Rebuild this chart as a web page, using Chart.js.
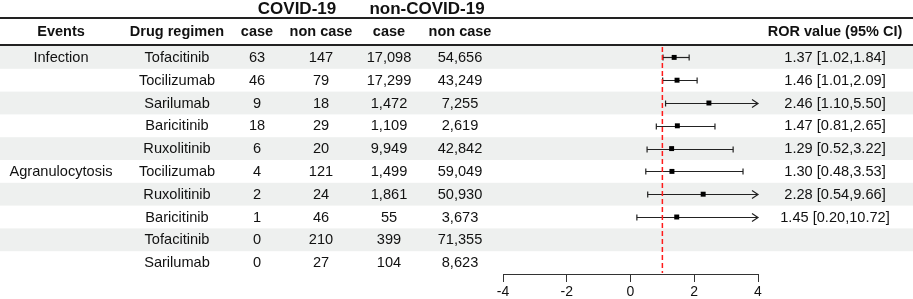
<!DOCTYPE html>
<html><head><meta charset="utf-8">
<script src="https://cdn.jsdelivr.net/npm/chart.js@4/dist/chart.umd.min.js"></script>
<style>html,body{margin:0;padding:0;background:#fff}canvas{display:block}</style>
</head><body>
<canvas id="c" width="913" height="299"></canvas>
<script>
// ---- data ----
const events = ['Infection', '', '', '', '', 'Agranulocytosis', '', '', '', ''];
const drugs = ['Tofacitinib', 'Tocilizumab', 'Sarilumab', 'Baricitinib', 'Ruxolitinib', 'Tocilizumab', 'Ruxolitinib', 'Baricitinib', 'Tofacitinib', 'Sarilumab'];
const covidCase = [63, 46, 9, 18, 6, 4, 2, 1, 0, 0];
const covidNonCase = [147, 79, 18, 29, 20, 121, 24, 46, 210, 27];
const nonCovidCase = [17098, 17299, 1472, 1109, 9949, 1499, 1861, 55, 399, 104];
const nonCovidNonCase = [54656, 43249, 7255, 2619, 42842, 59049, 50930, 3673, 71355, 8623];
const ror = [1.37, 1.46, 2.46, 1.47, 1.29, 1.30, 2.28, 1.45, null, null];
const ciLow = [1.02, 1.01, 1.10, 0.81, 0.52, 0.48, 0.54, 0.20, null, null];
const ciHigh = [1.84, 2.09, 5.50, 2.65, 3.22, 3.53, 9.66, 10.72, null, null];
const xTicks = [-4, -2, 0, 2, 4];
const refValue = 1;
const groupHeaders = ['COVID-19', 'non-COVID-19'];
const colHeaders = ['Events', 'Drug regimen', 'case', 'non case', 'case', 'non case', 'ROR value (95% CI)'];

// ---- drawing ----
const FONT = '"Liberation Sans", Arial, Helvetica, sans-serif';
const colX = [61, 177, 257, 321, 389, 460, 835];
const fmt = v => v.toLocaleString('en-US');

const tablePlugin = {
  id: 'table',
  beforeDraw(chart) {
    const ctx = chart.ctx, y = chart.scales.y, W = chart.width;
    ctx.save();
    const half = Math.abs(y.getPixelForValue(1) - y.getPixelForValue(0)) / 2;
    // shaded bands
    ctx.fillStyle = '#eef0ef';
    drugs.forEach((d, i) => {
      if (i % 2 === 0) {
        const c = y.getPixelForValue(i);
        ctx.fillRect(0, c - half, W, half * 2);
      }
    });
    // rules
    ctx.strokeStyle = '#222';
    ctx.lineWidth = 2;
    ctx.beginPath(); ctx.moveTo(0, 18); ctx.lineTo(W, 18); ctx.stroke();
    ctx.beginPath(); ctx.moveTo(0, 45); ctx.lineTo(W, 45); ctx.stroke();
    // headers
    ctx.fillStyle = '#111';
    ctx.textAlign = 'center';
    ctx.textBaseline = 'middle';
    ctx.font = 'bold 17px ' + FONT;
    ctx.fillText(groupHeaders[0], 297, 9);
    ctx.fillText(groupHeaders[1], 427, 9);
    ctx.font = 'bold 14.5px ' + FONT;
    colHeaders.forEach((h, k) => ctx.fillText(h, colX[k], 32));
    // body
    ctx.font = '14.6px ' + FONT;
    drugs.forEach((d, i) => {
      const cy = y.getPixelForValue(i) + 0.5;
      if (events[i]) ctx.fillText(events[i], colX[0], cy);
      ctx.fillText(d, colX[1], cy);
      ctx.fillText(fmt(covidCase[i]), colX[2], cy);
      ctx.fillText(fmt(covidNonCase[i]), colX[3], cy);
      ctx.fillText(fmt(nonCovidCase[i]), colX[4], cy);
      ctx.fillText(fmt(nonCovidNonCase[i]), colX[5], cy);
      if (ror[i] !== null) {
        ctx.fillText(ror[i].toFixed(2) + ' [' + ciLow[i].toFixed(2) + ',' + ciHigh[i].toFixed(2) + ']', colX[6], cy);
      }
    });
    ctx.restore();
  },
  beforeDatasetsDraw(chart) {
    const ctx = chart.ctx, x = chart.scales.x, y = chart.scales.y, a = chart.chartArea;
    ctx.save();
    ctx.strokeStyle = '#222';
    ctx.lineWidth = 1.2;
    const xMax = x.getPixelForValue(x.max), xMin = x.getPixelForValue(x.min);
    ror.forEach((r, i) => {
      if (r === null) return;
      const cy = Math.round(y.getPixelForValue(i)) + 0.5;
      let x1 = x.getPixelForValue(ciLow[i]), x2 = x.getPixelForValue(ciHigh[i]);
      const arrowR = x2 > xMax, arrowL = x1 < xMin;
      x1 = Math.max(x1, xMin); x2 = Math.min(x2, xMax);
      ctx.beginPath(); ctx.moveTo(x1, cy); ctx.lineTo(x2, cy); ctx.stroke();
      ctx.beginPath();
      if (arrowR) { ctx.moveTo(x2 - 6, cy - 4); ctx.lineTo(x2, cy); ctx.lineTo(x2 - 6, cy + 4); }
      else { ctx.moveTo(x2, cy - 3); ctx.lineTo(x2, cy + 3); }
      if (arrowL) { ctx.moveTo(x1 + 6, cy - 4); ctx.lineTo(x1, cy); ctx.lineTo(x1 + 6, cy + 4); }
      else { ctx.moveTo(x1, cy - 3); ctx.lineTo(x1, cy + 3); }
      ctx.stroke();
    });
    // reference line
    const rx = x.getPixelForValue(refValue);
    ctx.strokeStyle = '#ff1a1a';
    ctx.lineWidth = 1.5;
    ctx.setLineDash([5, 3]);
    ctx.beginPath(); ctx.moveTo(rx, a.top + 1); ctx.lineTo(rx, a.bottom - 1); ctx.stroke();
    ctx.restore();
  }
};

const points = [];
ror.forEach((r, i) => { if (r !== null) points.push({ x: r, y: i }); });

new Chart(document.getElementById('c'), {
  type: 'scatter',
  data: {
    datasets: [{
      data: points,
      pointStyle: 'rect',
      pointRadius: 3.5,
      pointHoverRadius: 3.5,
      backgroundColor: '#000',
      borderWidth: 0
    }]
  },
  options: {
    responsive: false,
    animation: false,
    events: [],
    layout: { padding: { left: 503, right: 155, top: 46, bottom: 0 } },
    plugins: { legend: { display: false }, tooltip: { enabled: false } },
    scales: {
      x: {
        type: 'linear',
        min: xTicks[0],
        max: xTicks[xTicks.length - 1],
        afterBuildTicks: s => { s.ticks = xTicks.map(v => ({ value: v })); },
        afterFit: s => { s.height = 25; },
        grid: { drawOnChartArea: false, drawTicks: true, tickLength: 8, color: '#333' },
        border: { display: true, color: '#333', width: 1 },
        ticks: { color: '#111', font: { size: 14, family: FONT }, padding: 2 }
      },
      y: {
        type: 'linear',
        display: false,
        reverse: true,
        min: -0.5,
        max: drugs.length - 0.5
      }
    }
  },
  plugins: [tablePlugin]
});
</script>
</body></html>
